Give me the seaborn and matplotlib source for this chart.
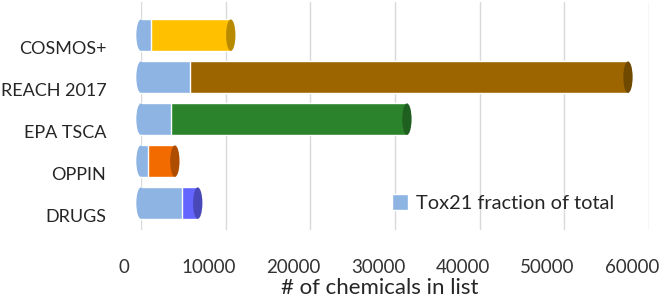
import pandas as pd
import seaborn as sns
import matplotlib.pyplot as plt
import matplotlib.colors as mcolors
from matplotlib.patches import Ellipse
from matplotlib.transforms import ScaledTranslation

lists = ["COSMOS+", "REACH 2017", "EPA TSCA", "OPPIN", "DRUGS"]
totals = [10600, 57500, 31400, 4000, 6700]
tox21 = [1200, 5800, 3600, 800, 4800]
colors = ["#FFC000", "#9C6500", "#2B842B", "#F26B00", "#6464FF"]
tox_color = "#8DB4E3"

df = pd.DataFrame({"list": lists, "total": totals, "tox21": tox21})

sns.set_style("white")
plt.rcParams["font.family"] = ["Lato", "DejaVu Sans"]

fig = plt.figure(figsize=(6.66, 3.0), dpi=100)
ax = fig.add_axes([0.2117, 0.2333, 0.763, 0.76])

bw = 0.75
sns.barplot(data=df, y="list", x="total", hue="list", palette=colors, saturation=1,
            orient="h", width=bw, legend=False, ax=ax, zorder=2)
sns.barplot(data=df, y="list", x="tox21", color=tox_color, saturation=1, orient="h",
            width=bw, ax=ax, label="Tox21 fraction of total", zorder=3)

# cylinder ends
cap_w = 1100
for i, (t, c) in enumerate(zip(totals, colors)):
    dark = [v * 0.72 for v in mcolors.to_rgb(c)]
    ax.add_patch(Ellipse((t, i), cap_w, bw, facecolor=dark, edgecolor="none",
                         zorder=4, clip_on=False))
    ax.add_patch(Ellipse((0, i), cap_w, bw, facecolor=tox_color, edgecolor="none",
                         zorder=3.5, clip_on=False))

ax.set_xlim(0, 60000)
ax.set_ylim(4.64, -0.79)
ax.set_xticks(range(0, 60001, 10000))
ax.grid(axis="x", color="#D9D9D9", linewidth=1)
ax.set_axisbelow(True)
sns.despine(ax=ax, left=True, bottom=True)

ax.tick_params(axis="x", length=0, pad=21, labelsize=13.5, labelcolor="#333333")
ax.tick_params(axis="y", length=0, pad=25, labelsize=13, labelcolor="#262626")
for lab in ax.get_xticklabels():
    lab.set_transform(lab.get_transform() + ScaledTranslation(-0.17, 0, fig.dpi_scale_trans))
for lab in ax.get_yticklabels():
    lab.set_transform(lab.get_transform() + ScaledTranslation(0, -0.12, fig.dpi_scale_trans))

ax.set_ylabel("")
ax.set_xlabel("# of chemicals in list", fontsize=16, color="#262626")
ax.xaxis.set_label_coords((380 - 141) / 508, (300 - 288 - 70) / 228)
ax.xaxis.label.set_va("center")

leg = ax.legend(loc="center left", bbox_to_anchor=((392 - 141) / 508, (300 - 203 - 70) / 228),
                frameon=False, fontsize=14.4, handlelength=0.8, handleheight=0.8,
                handletextpad=0.4, borderaxespad=0, borderpad=0)
for t in leg.get_texts():
    t.set_color("#262626")

fig.savefig("out.png", dpi=100)
